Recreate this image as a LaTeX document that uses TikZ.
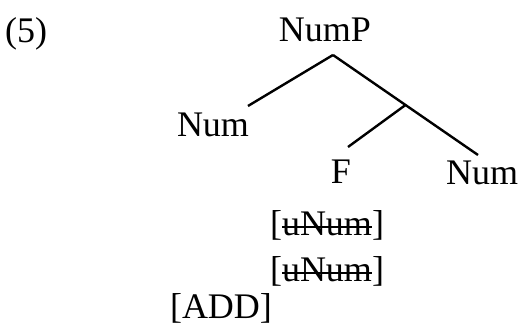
\documentclass[tikz,border=0pt]{standalone}
\usepackage{fontspec}
\setmainfont{Liberation Serif}
\usetikzlibrary{calc}

\newcommand{\struck}[1]{\setbox0\hbox{#1}\rlap{\rule[0.45ex]{\wd0}{0.7pt}}\box0}

\begin{document}
\begin{tikzpicture}[x=0.5pt,y=-0.5pt,font=\fontsize{18}{21}\selectfont,
    line width=1.2pt]
  \useasboundingbox (0,0) rectangle (518,330);
  \node (ex) at (26,34) {(5)};
  \node (numP) at (325,30) {NumP};
  \node (numL) at (213,125) {Num};
  \node (f) at (341,172) {F};
  \node (numR) at (482,173) {Num};
  \node (feat1) at (327,225) {[\struck{uNum}]};
  \node (feat2) at (327,271) {[\struck{uNum}]};
  \node (add) at (221,308) {[ADD]};
  \path (numP) +(8,25) coordinate (numPb);
  \path (numL) +(35,-19) coordinate (numLt);
  \path (numR) +(-4,-18) coordinate (numRt);
  \path (f) +(7,-25) coordinate (ft);
  \path ($(numPb)!.5!(numRt)$) coordinate (br);
  \draw (numPb) -- (numLt);
  \draw (numPb) -- (numRt);
  \draw (br) -- (ft);
\end{tikzpicture}
\end{document}
